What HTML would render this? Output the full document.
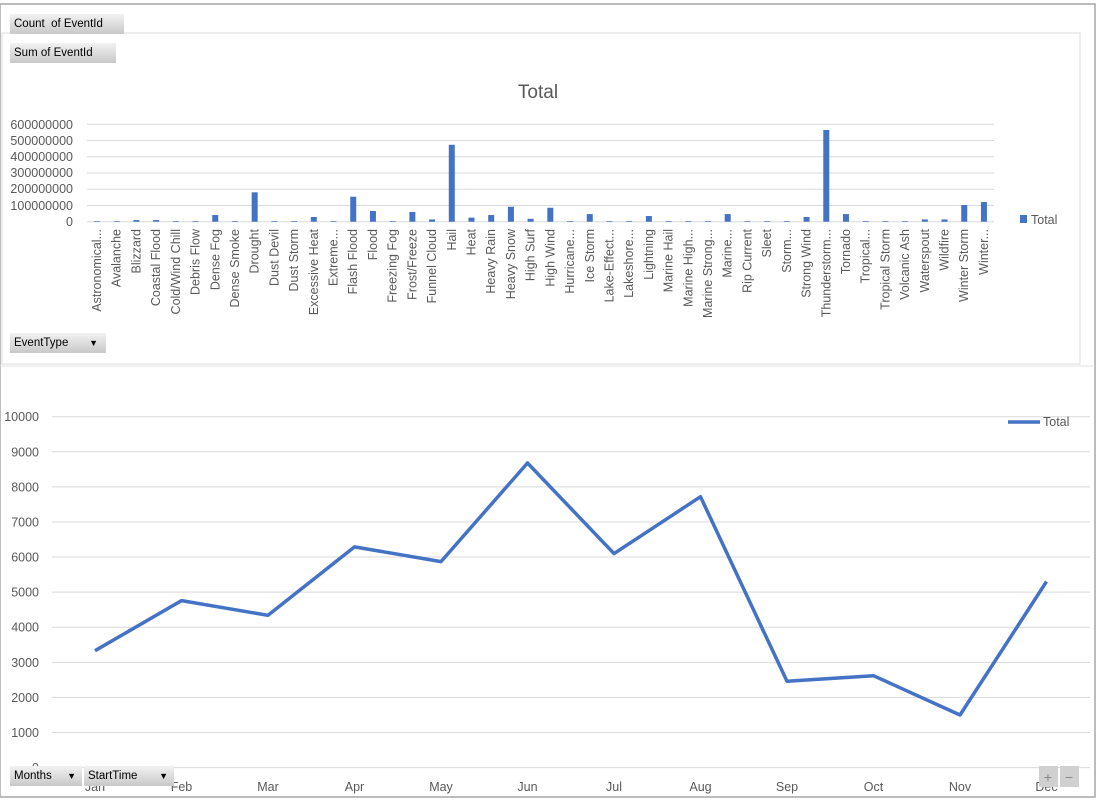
<!DOCTYPE html>
<html><head><meta charset="utf-8"><style>
body{margin:0;width:1100px;height:807px;background:#fff;overflow:hidden;font-family:"Liberation Sans",sans-serif}
.btn{position:absolute;height:20px;background:linear-gradient(#f2f2f2,#c8c8c8);font-size:11.5px;line-height:20px;padding-left:4px;box-sizing:border-box;color:#000}
</style></head><body>
<svg width="1100" height="807" style="position:absolute;left:0;top:0" font-family="Liberation Sans, sans-serif">
<rect x="0" y="4" width="1095" height="793" fill="none" stroke="#a6a6a6" stroke-width="1.5"/>
<rect x="2" y="33" width="1078" height="331" fill="none" stroke="#dcdcdc" stroke-width="1"/>
<text x="538" y="98" font-size="19" fill="#595959" text-anchor="middle">Total</text>
<g stroke="#d9d9d9" stroke-width="1">
<line x1="87" x2="994" y1="124.3" y2="124.3"/><line x1="87" x2="994" y1="140.5" y2="140.5"/><line x1="87" x2="994" y1="156.7" y2="156.7"/><line x1="87" x2="994" y1="173" y2="173"/><line x1="87" x2="994" y1="189.2" y2="189.2"/><line x1="87" x2="994" y1="205.5" y2="205.5"/><line x1="87" x2="994" y1="221.7" y2="221.7"/>
</g>
<g font-size="12.5" fill="#595959" text-anchor="end">
<text x="73" y="129">600000000</text><text x="73" y="145">500000000</text><text x="73" y="161">400000000</text><text x="73" y="177">300000000</text><text x="73" y="193">200000000</text><text x="73" y="210">100000000</text><text x="73" y="226">0</text>
</g>
<g id="bars" fill="#4472c4"></g>
<g id="blabels" font-size="12.5" fill="#595959"></g>
<rect x="1020" y="215" width="7" height="8" fill="#4472c4"/>
<text x="1031" y="224" font-size="12.5" fill="#595959">Total</text>
<line x1="0" y1="366" x2="1095" y2="366" stroke="#e0e0e0"/>
<g id="lgrid" stroke="#d9d9d9"></g>
<g id="lylab" font-size="12.5" fill="#595959" text-anchor="end"></g>
<polyline fill="none" stroke="#4472c4" stroke-width="3.5" stroke-linejoin="round" points="95,650.7 181.5,600.6 268,615.3 354.5,546.9 441,561.6 527.5,463 614,553.6 700.5,496.7 787,681.3 873.5,675.7 960,715 1046.5,581.6"/>
<line x1="1008" y1="422" x2="1040" y2="422" stroke="#4472c4" stroke-width="3.5"/>
<text x="1043" y="426" font-size="12.5" fill="#595959">Total</text>
<g font-size="12.5" fill="#595959" text-anchor="middle">
<text x="95" y="791">Jan</text><text x="181.5" y="791">Feb</text><text x="268" y="791">Mar</text><text x="354.5" y="791">Apr</text><text x="441" y="791">May</text><text x="527.5" y="791">Jun</text><text x="614" y="791">Jul</text><text x="700.5" y="791">Aug</text><text x="787" y="791">Sep</text><text x="873.5" y="791">Oct</text><text x="960" y="791">Nov</text><text x="1046.5" y="791">Dec</text>
</g>
<rect x="1039" y="766" width="19" height="21" fill="#d0d0d0"/><rect x="1060" y="766" width="19" height="21" fill="#d0d0d0"/>
<text x="1048" y="782" font-size="14" fill="#888" text-anchor="middle">+</text><text x="1069" y="782" font-size="14" fill="#888" text-anchor="middle">−</text>
</svg>
<div class="btn" style="left:10px;top:14px;width:114px">Count&nbsp; of EventId</div>
<div class="btn" style="left:10px;top:43px;width:106px">Sum of EventId</div>
<div class="btn" style="left:10px;top:333px;width:96px">EventType<span style="position:absolute;right:8px;font-size:9px">▼</span></div>
<div class="btn" style="left:10px;top:766px;width:72px">Months<span style="position:absolute;right:6px;font-size:9px">▼</span></div>
<div class="btn" style="left:84px;top:766px;width:90px">StartTime<span style="position:absolute;right:6px;font-size:9px">▼</span></div>
<script>
var names=["Astronomical...","Avalanche","Blizzard","Coastal Flood","Cold/Wind Chill","Debris Flow","Dense Fog","Dense Smoke","Drought","Dust Devil","Dust Storm","Excessive Heat","Extreme...","Flash Flood","Flood","Freezing Fog","Frost/Freeze","Funnel Cloud","Hail","Heat","Heavy Rain","Heavy Snow","High Surf","High Wind","Hurricane...","Ice Storm","Lake-Effect...","Lakeshore...","Lightning","Marine Hail","Marine High...","Marine Strong...","Marine...","Rip Current","Sleet","Storm...","Strong Wind","Thunderstorm...","Tornado","Tropical...","Tropical Storm","Volcanic Ash","Waterspout","Wildfire","Winter Storm","Winter..."];
var vals=[4,4,10,10,4,4,41,4,181,4,4,29,4,154,66,4,60,14,474,25,41,92,18,86,4,47,4,4,35,4,4,4,47,4,4,4,29,565,47,4,4,4,14,14,103,121];
var ns="http://www.w3.org/2000/svg",b=document.getElementById("bars"),l=document.getElementById("blabels");
for(var i=0;i<names.length;i++){var cx=97+i*19.71,h=vals[i]*0.1623;
var r=document.createElementNS(ns,"rect");r.setAttribute("x",cx-3);r.setAttribute("y",221.7-h);r.setAttribute("width",6);r.setAttribute("height",h);b.appendChild(r);
var t=document.createElementNS(ns,"text");t.setAttribute("transform","translate("+(cx+4)+",229) rotate(-90)");t.setAttribute("text-anchor","end");t.textContent=names[i];l.appendChild(t);}
var g=document.getElementById("lgrid"),yl=document.getElementById("lylab");
for(var k=0;k<=10;k++){var y=767.6-k*35.09;var ln=document.createElementNS(ns,"line");ln.setAttribute("x1",52);ln.setAttribute("x2",1090);ln.setAttribute("y1",y);ln.setAttribute("y2",y);g.appendChild(ln);
var t=document.createElementNS(ns,"text");t.setAttribute("x",39);t.setAttribute("y",y+4.5);t.textContent=k*1000;yl.appendChild(t);}
</script>
</body></html>
